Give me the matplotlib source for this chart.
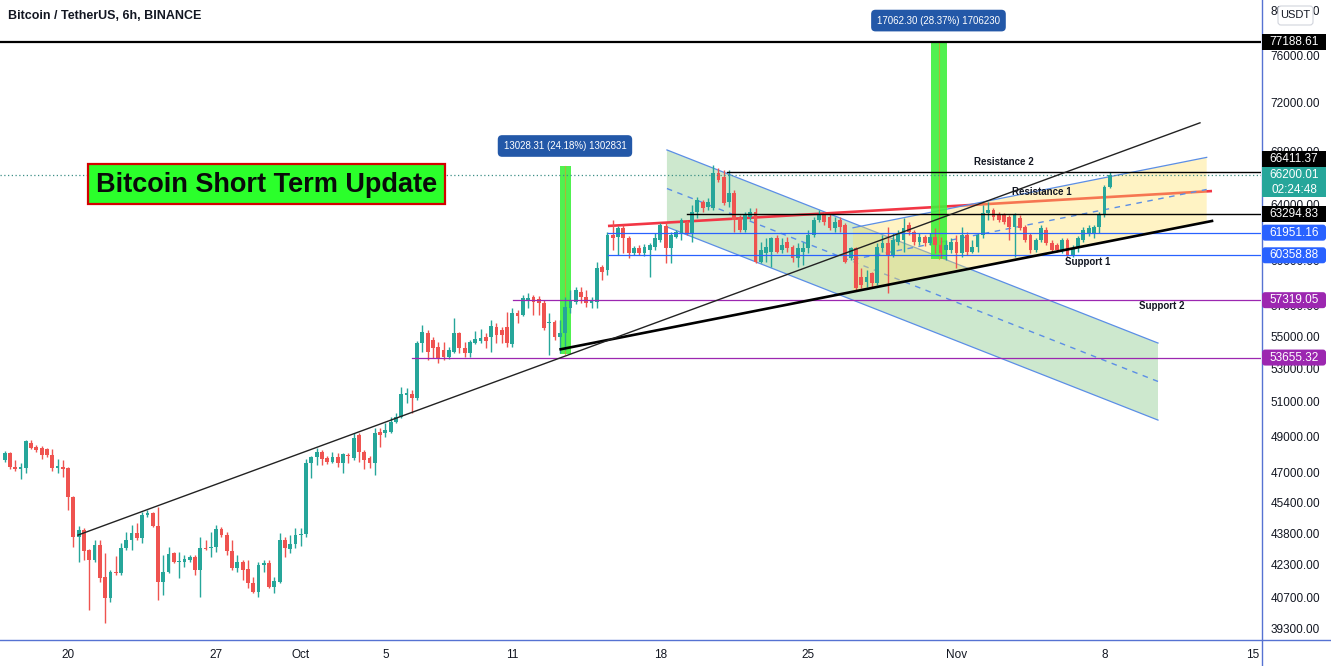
import numpy as np
import pandas as pd
import matplotlib
matplotlib.use("Agg")
import matplotlib.pyplot as plt
import matplotlib.dates as mdates
from matplotlib.patches import Rectangle, Polygon, FancyBboxPatch
from matplotlib.lines import Line2D
from matplotlib.transforms import IdentityTransform

plt.rcParams['font.family'] = ['Liberation Sans', 'DejaVu Sans']

# ---------------- data (BTC/USDT 6h candles) ----------------
first_candle = "2021-09-17 00:00"
opens = [47690, 48070, 47310, 47200, 47250, 48630, 48400, 48350, 48300, 47970,
         47250, 47310, 47250, 45700, 43640, 43990, 42990, 42500, 43240, 41680,
         40680, 41920, 41870, 43090, 43490, 43840, 43590, 44760, 44860, 44200,
         41440, 41920, 42840, 42400, 42400, 42500, 42650, 42010, 43090, 43090,
         43140, 44050, 43740, 42940, 42110, 42400, 42060, 41390, 40960, 42260,
         42350, 41200, 41440, 43490, 43040, 43290, 43740, 43790, 47520, 47850,
         48130, 47800, 47580, 47850, 47520, 47970, 47800, 49080, 48130, 47800,
         47520, 49250, 49190, 49250, 49820, 50110, 51390, 51450, 51210, 54560,
         55190, 54750, 54310, 54120, 53690, 54000, 55190, 54250, 53940, 54560,
         54690, 54940, 54940, 55580, 55390, 55580, 54500, 56480, 56350, 57330,
         57530, 57400, 57140, 55830, 55900, 54940, 55190, 56810, 57200, 57860,
         57530, 57140, 57200, 59550, 59350, 61780, 61640, 62280, 61570, 60520,
         60870, 60520, 60730, 60940, 61430, 62430, 60870, 61640, 61930, 62720,
         61930, 63440, 64180, 63810, 63740, 66350, 66050, 64180, 64850, 63080,
         62140, 63080, 63440, 59890, 60520, 60590, 61570, 60730, 61290, 60940,
         60170, 60590, 60870, 61780, 62860, 63230, 63080, 62280, 62860, 62500,
         60170, 60870, 58870, 58530, 59140, 58460, 60870, 61220, 60380, 61290,
         61430, 62500, 62000, 61290, 61640, 61220, 61640, 61080, 60730, 60730,
         61290, 60520, 61780, 60590, 60940, 61780, 63370, 63590, 63230, 63230,
         63080, 62360, 63000, 62360, 61780, 60730, 61430, 62140, 61220, 61080,
         60730, 61430, 60380, 60870, 61430, 61930, 61930, 62360, 63230, 65290]
highs = [48180, 48130, 47690, 47520, 48800, 48800, 48520, 48460, 48350, 48300,
         47740, 47690, 47310, 45750, 44200, 44100, 43040, 43490, 43490, 42840,
         42010, 42700, 43340, 43890, 44250, 44350, 44920, 45020, 44920, 45180,
         42750, 43140, 42890, 42890, 42750, 42750, 42750, 43640, 43490, 43890,
         44250, 44150, 43890, 43490, 42750, 42500, 42500, 41680, 42400, 42500,
         42500, 41680, 43840, 43640, 43740, 44100, 44100, 47740, 47910, 48350,
         48240, 47910, 48130, 48070, 48070, 48070, 49190, 49190, 48240, 47910,
         49480, 49480, 49760, 50110, 50340, 51870, 51810, 51690, 54690, 55700,
         55390, 54940, 54630, 54630, 54310, 56160, 55260, 54630, 54750, 55320,
         55450, 55190, 56030, 55830, 55580, 56550, 56810, 56680, 57660, 57790,
         57660, 57600, 57330, 56480, 56030, 56030, 57530, 57990, 58190, 58190,
         57990, 57530, 59890, 59690, 62000, 62860, 62430, 62500, 61710, 61010,
         61080, 61150, 61220, 61930, 62640, 62640, 62000, 62140, 63000, 62860,
         63960, 64550, 64320, 64470, 66970, 66740, 66590, 66590, 65070, 63230,
         63440, 63740, 63740, 61290, 61570, 61640, 61780, 61570, 61640, 61080,
         61220, 61290, 62140, 63080, 63590, 63440, 63370, 63080, 63080, 62640,
         60940, 60940, 59480, 59350, 59210, 61220, 61780, 62360, 61930, 62140,
         63000, 62720, 62140, 61930, 61780, 61930, 62280, 61640, 61430, 61570,
         61780, 62360, 62000, 61430, 61930, 63960, 64180, 63740, 63440, 63370,
         63230, 63370, 63230, 62500, 61930, 61570, 62500, 62360, 61430, 61220,
         61570, 61570, 61080, 61710, 62360, 62500, 62500, 63440, 65440, 66411]
lows = [47580, 47200, 47090, 46660, 46980, 48300, 48130, 47740, 47850, 47090,
        46980, 46760, 45020, 43140, 42400, 42500, 40120, 42400, 41440, 39530,
        40500, 41770, 41770, 42990, 42990, 43490, 43340, 44660, 44150, 40590,
        40820, 41870, 42350, 41630, 42160, 42400, 41770, 40730, 42990, 42650,
        42890, 43640, 42750, 42010, 41920, 41530, 41150, 40920, 40730, 41920,
        41150, 40920, 41390, 42650, 42840, 43090, 43190, 43640, 46710, 47410,
        47410, 47470, 47520, 47300, 46980, 47520, 47690, 47580, 47200, 47250,
        46870, 48410, 48970, 49190, 49760, 50050, 50920, 50340, 51100, 54000,
        53500, 53630, 53320, 53500, 53570, 53940, 53940, 53690, 53690, 54500,
        54560, 54250, 54000, 54560, 54560, 54310, 54310, 55830, 56290, 56810,
        56350, 56350, 55390, 53810, 54750, 53940, 54120, 56480, 57070, 57140,
        56870, 56810, 56810, 58670, 59010, 60730, 60380, 60520, 60170, 60380,
        60380, 60310, 58870, 60730, 61290, 59830, 59830, 61570, 61430, 61780,
        61290, 63000, 63440, 63590, 63590, 65670, 63960, 63810, 62000, 62000,
        62000, 62860, 59830, 59830, 59890, 59550, 60520, 60520, 60590, 59890,
        59550, 59690, 60520, 61640, 62720, 62500, 62140, 62000, 62000, 59830,
        60030, 57990, 58130, 58190, 58190, 58330, 60590, 57790, 60240, 61080,
        60590, 61780, 61080, 61080, 61010, 61080, 60520, 60170, 60030, 60520,
        59480, 60240, 60380, 60520, 60590, 61570, 62860, 62860, 62720, 62570,
        61430, 60240, 62140, 61290, 60520, 60590, 61290, 61080, 60590, 60590,
        60520, 60240, 60240, 60590, 61290, 61710, 61570, 61930, 63080, 65220]
closes = [48070, 47310, 47200, 47310, 48740, 48350, 48240, 47970, 47970, 47250,
          47360, 47200, 45700, 43640, 43990, 42940, 42500, 43240, 41630, 40680,
          41920, 41870, 43090, 43490, 43840, 43590, 44760, 44860, 44200, 41440,
          41920, 42800, 42400, 42450, 42550, 42650, 42010, 43090, 43040, 43140,
          44050, 43740, 42940, 42110, 42400, 42010, 41390, 40960, 42260, 42350,
          41200, 41490, 43490, 43090, 43290, 43740, 43790, 47520, 47850, 48130,
          47750, 47580, 47850, 47520, 48020, 47910, 48910, 48130, 47690, 47520,
          49190, 49080, 49360, 49820, 50110, 51450, 51510, 51210, 54560, 55260,
          54000, 54250, 53630, 53690, 54120, 55190, 54250, 53940, 54630, 54810,
          54880, 54690, 55640, 55070, 55070, 54560, 56480, 56290, 57460, 57460,
          57200, 57140, 55510, 55900, 54940, 55190, 56870, 57330, 57990, 57530,
          57140, 57330, 59480, 59210, 61780, 61570, 62280, 61570, 60520, 60870,
          60520, 60940, 61080, 61570, 62500, 60870, 61780, 62000, 62860, 61930,
          63440, 64320, 63740, 64180, 66350, 65820, 64100, 64850, 62860, 62140,
          63230, 63440, 59890, 60730, 60940, 61570, 60590, 61080, 60870, 60170,
          60870, 60870, 61780, 62860, 63230, 62720, 62280, 62720, 62360, 59890,
          60870, 58130, 58330, 58870, 58460, 60940, 61220, 60380, 61430, 61930,
          62280, 62000, 61290, 61640, 61220, 61640, 61080, 60520, 61080, 61290,
          60520, 61780, 60590, 60940, 61780, 63370, 63590, 63080, 62860, 62720,
          62360, 63230, 62280, 61430, 60730, 61430, 62280, 61220, 60730, 60730,
          61430, 60380, 60870, 61570, 62140, 62280, 62360, 63230, 65290, 66200.01]

ytick_values = [80000, 76000, 72000, 68000, 64000, 60000, 57000, 55000, 53000,
                51000, 49000, 47000, 45400, 43800, 42300, 40700, 39300]
xtick_dates = ["2021-09-20", "2021-09-27", "2021-10-01", "2021-10-05", "2021-10-11",
               "2021-10-18", "2021-10-25", "2021-11-01", "2021-11-08", "2021-11-15"]
xtick_labels = ["20", "27", "Oct", "5", "11", "18", "25", "Nov", "8", "15"]

# horizontal levels
level_77188 = 77188.61
level_66411 = 66411.37
level_63294 = 63294.83
level_61951 = 61951.16
level_60358 = 60358.88
level_57319 = 57319.05
level_53655 = 53655.32
last_price = 66200.01

# trend lines: (date, price) pairs
resistance1_line = [("2021-10-15 12:36", 62430), ("2021-11-13 02:00", 64990)]
support1_line = [("2021-10-13 06:55", 54170), ("2021-11-13 02:00", 62790)]
long_trend_line = [("2021-09-20 11:11", 43740), ("2021-11-12 12:22", 70300)]

# descending channel
down_ch_dates = ["2021-10-18 07:30", "2021-11-10 12:43"]
down_ch_top = [68140, 54560]
down_ch_mid = [65180, 52200]
down_ch_bot = [62360, 49930]
# ascending channel
up_ch_dates = ["2021-10-27 02:37", "2021-11-12 19:58"]
up_ch_top = [62300, 67560]
up_ch_mid = [60070, 65110]
up_ch_bot = [57900, 62750]

# price-range measures
range1_dates = ["2021-10-13 06:07", "2021-10-13 18:36"]
range1_prices = [53850, 66880]
range1_label = "13028.31 (24.18%) 1302831"
range1_label_pos = ("2021-10-13 11:48", 68450)
range2_dates = ["2021-10-30 19:41", "2021-10-31 13:16"]
range2_prices = [60126, 77188.61]
range2_label = "17062.30 (28.37%) 1706230"
range2_label_pos = ("2021-10-31 03:37", 79080)

text_notes = [("Resistance 2", "2021-11-03 05:57", 67200),
              ("Resistance 1", "2021-11-05 01:05", 64920),
              ("Support 1", "2021-11-07 05:17", 59900),
              ("Support 2", "2021-11-10 17:15", 56930)]

x_range = ["2021-09-16 18:43", "2021-11-15 09:36"]
y_range = [38809, 80975]

# ---------------- figure ----------------
W, H = 1331, 666
AX_R, AX_B = 1261, 639
fig = plt.figure(figsize=(W / 100, H / 100), dpi=100)
fig.patch.set_facecolor("white")
ax = fig.add_axes([0, (H - AX_B) / H, AX_R / W, AX_B / H])
ax.set_facecolor("white")
ax.set_yscale("log")

d2n = lambda s: mdates.date2num(pd.Timestamp(s))
ax.set_xlim(d2n(x_range[0]), d2n(x_range[1]))
ax.set_ylim(*y_range)

# candles
o = np.array(opens, float); h = np.array(highs, float)
l = np.array(lows, float); c = np.array(closes, float)
times = pd.date_range(first_candle, periods=len(o), freq="6h")
t = mdates.date2num(times)
GREEN, RED = "#26a69a", "#ef5350"
cols = np.where(c >= o, GREEN, RED)
body_lo = np.minimum(o, c)
body_hi = np.maximum(np.maximum(o, c), body_lo * 1.0009)
ax.vlines(t, l, h, colors=cols, lw=1.0, zorder=4)
ax.bar(t, body_hi - body_lo, bottom=body_lo, width=0.18, color=cols, lw=0, zorder=4)

# descending channel (green)
dt = [d2n(s) for s in down_ch_dates]
ax.add_patch(Polygon([(dt[0], down_ch_top[0]), (dt[1], down_ch_top[1]),
                      (dt[1], down_ch_bot[1]), (dt[0], down_ch_bot[0])],
                     closed=True, fc="#4caf50", alpha=0.28, ec="none", zorder=1))
BLUE_LN = "#5b8ee6"
ax.plot(dt, down_ch_top, color=BLUE_LN, lw=0.9, zorder=2)
ax.plot(dt, down_ch_bot, color=BLUE_LN, lw=0.9, zorder=2)
ax.plot(dt, down_ch_mid, color=BLUE_LN, lw=1.0, ls=(0, (4, 4)), zorder=2)

# resistance 1 (red) line - under the yellow channel
rx = [d2n(p[0]) for p in resistance1_line]; ry = [p[1] for p in resistance1_line]
ax.plot(rx, ry, color="#f23645", lw=1.9, zorder=2.2, solid_capstyle="butt")

# ascending channel (yellow)
ut = [d2n(s) for s in up_ch_dates]
ax.add_patch(Polygon([(ut[0], up_ch_top[0]), (ut[1], up_ch_top[1]),
                      (ut[1], up_ch_bot[1]), (ut[0], up_ch_bot[0])],
                     closed=True, fc="#ffe066", alpha=0.38, ec="none", zorder=2.5))
ax.plot(ut, up_ch_top, color=BLUE_LN, lw=0.9, zorder=2.6)
ax.plot(ut, up_ch_mid, color=BLUE_LN, lw=1.0, ls=(0, (4, 4)), zorder=2.6)

# price range bars
for dts, prs in ((range1_dates, range1_prices), (range2_dates, range2_prices)):
    x0, x1 = d2n(dts[0]), d2n(dts[1])
    ax.add_patch(Rectangle((x0, prs[0]), x1 - x0, prs[1] - prs[0], fc="#3df03d",
                           alpha=0.9, ec="none", zorder=3))
    ax.plot([(x0 + x1) / 2] * 2, prs, color="#d99a2b", lw=0.8, alpha=0.7, zorder=3.1)

# horizontal levels
xr = d2n(x_range[1])
ax.axhline(level_77188, color="black", lw=1.6, zorder=5)
ax.axhline(last_price, color="#3d8f86", lw=0.9, ls=(0, (1, 2)), zorder=5)
ax.plot([d2n("2021-10-21 03:37"), xr], [level_66411] * 2, color="black", lw=1.0, zorder=5)
ax.plot([d2n("2021-10-19 05:54"), xr], [level_63294] * 2, color="black", lw=1.0, zorder=5)
ax.plot([d2n("2021-10-15 12:36"), xr], [level_61951] * 2, color="#2962ff", lw=0.9, zorder=5)
ax.plot([d2n("2021-10-15 12:36"), xr], [level_60358] * 2, color="#2962ff", lw=0.9, zorder=5)
ax.plot([d2n("2021-10-11 00:27"), xr], [level_57319] * 2, color="#9c27b0", lw=0.9, zorder=5)
ax.plot([d2n("2021-10-06 05:50"), xr], [level_53655] * 2, color="#9c27b0", lw=0.9, zorder=5)

# trend lines
sx = [d2n(p[0]) for p in support1_line]; sy = [p[1] for p in support1_line]
ax.plot(sx, sy, color="black", lw=1.9, zorder=5)
lx = [d2n(p[0]) for p in long_trend_line]; ly = [p[1] for p in long_trend_line]
ax.plot(lx, ly, color="#222222", lw=1.0, zorder=5)

# range labels
for lab, pos in ((range1_label, range1_label_pos), (range2_label, range2_label_pos)):
    ax.text(d2n(pos[0]), pos[1], lab, ha="center", va="center", fontsize=7, color="white",
            bbox=dict(boxstyle="round,pad=0.6,rounding_size=0.45", fc="#2358a8", ec="none"),
            zorder=9)

# notes
for txt, ds, pr in text_notes:
    ax.text(d2n(ds), pr, txt, ha="center", va="center", fontsize=7, fontweight="bold",
            color="#131722", zorder=9)

# title box
ax.add_patch(Rectangle((0.0698, 0.6808), 0.2831, 0.0625, transform=ax.transAxes,
                       fc="#2bff2b", ec="#d40000", lw=1.6, zorder=9))
ax.text(0.2113, 0.711, "Bitcoin Short Term Update", transform=ax.transAxes, ha="center",
        va="center", fontsize=19.5, fontweight="bold", color="#0a0a0a", zorder=10)
ax.text(0.0063, 0.975, "Bitcoin / TetherUS, 6h, BINANCE", transform=ax.transAxes,
        ha="left", va="center", fontsize=9, fontweight="bold", color="#131722", zorder=10)

# axes styling
for s in ax.spines.values():
    s.set_visible(False)
ax.yaxis.tick_right()
ax.set_yticks(ytick_values, labels=[f"{v:.2f}" for v in ytick_values])
ax.minorticks_off()
ax.set_xticks([d2n(s) for s in xtick_dates], labels=xtick_labels)
ax.tick_params(axis="y", length=0, pad=7, labelsize=8.5, labelcolor="#131722")
ax.tick_params(axis="x", length=0, pad=7, labelsize=8.5, labelcolor="#131722")

# frame lines of the price / time scales
AXC = "#5672d2"
fig.add_artist(Line2D([AX_R + 0.5, AX_R + 0.5], [0, H], transform=IdentityTransform(),
                      color=AXC, lw=1.0, zorder=5))
fig.add_artist(Line2D([0, W], [H - AX_B - 0.5, H - AX_B - 0.5], transform=IdentityTransform(),
                      color=AXC, lw=1.0, zorder=5))

# price scale labels
def price_label(price, text, fc, dy=0, hh=16, rounded=False):
    yd = ax.transData.transform((ax.get_xlim()[0], price))[1] + dy
    x0 = AX_R + 1
    if rounded:
        p = FancyBboxPatch((x0 + 1, yd - hh / 2 + 1), 62, hh - 2, boxstyle="round,pad=1,rounding_size=3",
                           transform=IdentityTransform(), fc=fc, ec="none", zorder=10)
    else:
        p = Rectangle((x0, yd - hh / 2), 64, hh, transform=IdentityTransform(), fc=fc,
                      ec="none", zorder=10)
    fig.add_artist(p)
    fig.text(x0 + 32, yd, text, transform=IdentityTransform(), ha="center", va="center",
             color="white", fontsize=8.5, zorder=11)

price_label(level_77188, "77188.61", "#000000")
price_label(level_66411, "66411.37", "#000000", dy=13)
price_label(level_63294, "63294.83", "#000000")
price_label(level_61951, "61951.16", "#2962ff", rounded=True)
price_label(level_60358, "60358.88", "#2962ff", rounded=True)
price_label(level_57319, "57319.05", "#9c27b0", rounded=True)
price_label(level_53655, "53655.32", "#9c27b0", rounded=True)

# last price label (two lines)
yd = ax.transData.transform((ax.get_xlim()[0], last_price))[1] - 7
fig.add_artist(Rectangle((AX_R + 1, yd - 15), 64, 30, transform=IdentityTransform(),
                         fc="#26a69a", ec="none", zorder=10))
fig.text(AX_R + 33, yd + 7, "66200.01", transform=IdentityTransform(), ha="center",
         va="center", color="white", fontsize=8.5, zorder=11)
fig.text(AX_R + 33, yd - 7.5, "02:24:48", transform=IdentityTransform(), ha="center",
         va="center", color="white", fontsize=8.5, zorder=11)

# currency button
fig.add_artist(FancyBboxPatch((1278, H - 25), 35, 19, boxstyle="round,pad=0,rounding_size=3",
                              transform=IdentityTransform(), fc="white", ec="#d1d4dc",
                              lw=0.8, zorder=10))
fig.text(1295.5, H - 15.5, "USDT", transform=IdentityTransform(), ha="center", va="center",
         color="#131722", fontsize=8, zorder=11)

fig.savefig("out.png", dpi=100, facecolor="white")
